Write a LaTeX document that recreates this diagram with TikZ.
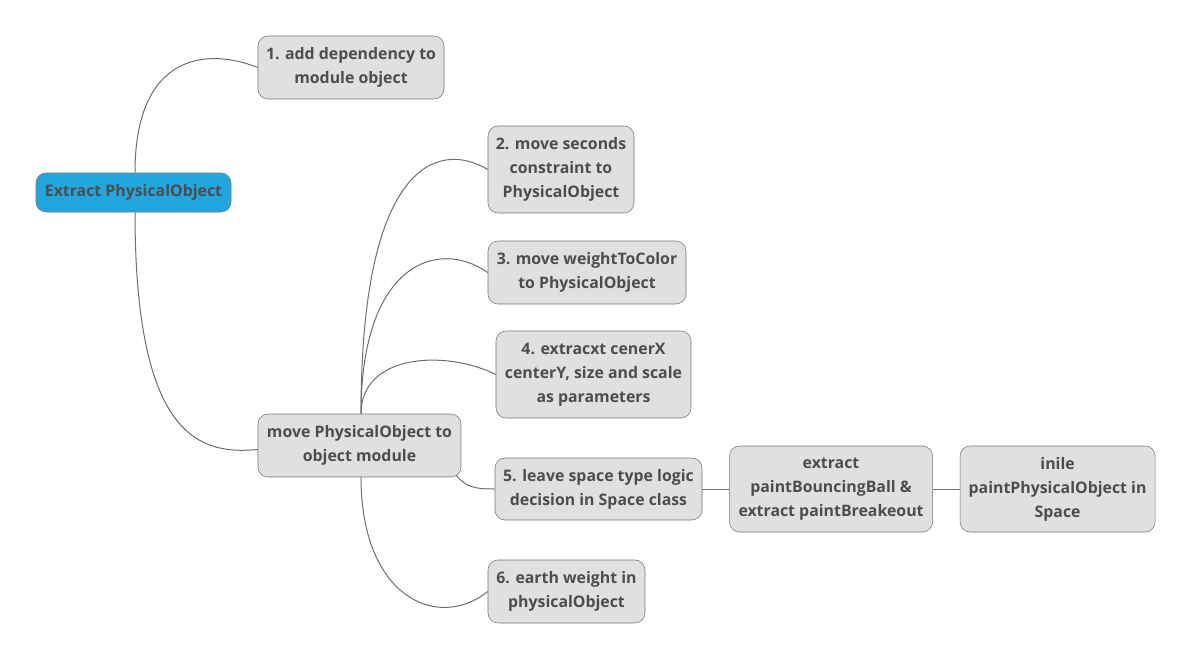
\documentclass[tikz,border=0pt]{standalone}
\usepackage{fontspec}
\setmainfont{Open Sans}
\usetikzlibrary{positioning,calc}
\definecolor{rootblue}{HTML}{21A6DD}
\definecolor{boxgray}{HTML}{E0E0E0}
\definecolor{edgegray}{HTML}{777777}
\definecolor{linkgray}{HTML}{6E6E6E}
\definecolor{textgray}{HTML}{4D4D4D}

\begin{document}
\begin{tikzpicture}[x=0.75pt,y=-0.75pt,
  topic/.style 2 args={rectangle, draw=edgegray, fill=boxgray, rounded corners=7.5pt, align=center,
    text=textgray, font=\fontsize{11.9}{18}\selectfont\bfseries, inner sep=2pt,
    minimum width=#1*0.75pt, minimum height=#2*0.75pt},
  link/.style={draw=linkgray, line width=0.75pt}]
  \useasboundingbox (0,0) rectangle (1192,661);

  \node [topic={195}{39}, fill=rootblue] (root) at (133.5,192.5) {Extract PhysicalObject};
  \node [topic={186}{63}] (adddep) at (351,67.5) {1. add dependency to\\module object};
  \node [topic={203}{63}] (movepo) at (359.5,445.5) {move PhysicalObject to\\object module};

  \node [topic={146}{87}] (moveseconds) at (561,169.5) {2. move seconds\\constraint to\\PhysicalObject};
  \node [topic={198}{63}] (moveweight) at (587,272.5) {3. move weightToColor\\to PhysicalObject};
  \node [topic={195}{87}] (extractcenter) at (593.5,374.5) {4. extracxt cenerX\\centerY, size and scale\\as parameters};
  \node [topic={207}{62}] (leavespace) at (598.5,489) {5. leave space type logic\\decision in Space class};
  \node [topic={157}{63}] (earthweight) at (566.5,591.5) {6. earth weight in\\physicalObject};

  \node [topic={203}{86}, right=27*0.75pt of leavespace] (extractpaint) {extract\\paintBouncingBall \&\\extract paintBreakeout};
  \node [topic={195}{86}, right=27*0.75pt of extractpaint] (inilepaint) {inile\\paintPhysicalObject in\\Space};

  % ramas
  \draw [link] ($(root.north)+(1.5,0)$) .. controls +(0,-120) and +(-50,-20) .. (adddep.west);
  \draw [link] ($(root.south)+(1.5,0)$) .. controls +(0,230) and +(-55,5) .. ($(movepo.west)+(0,4)$);
  \draw [link] ($(movepo.north)+(1.5,0)$) .. controls +(0,-250) and +(-50,-30) .. (moveseconds.west);
  \draw [link] ($(movepo.north)+(1.5,0)$) .. controls +(0,-150) and +(-50,-35) .. (moveweight.west);
  \draw [link] ($(movepo.north)+(1.5,0)$) .. controls +(0,-60) and +(-50,-25) .. (extractcenter.west);
  \draw [link] ($(movepo.south east)+(-5,-2)$) .. controls +(10,12) and +(-20,0) .. (leavespace.west);
  \draw [link] ($(movepo.south)+(1.5,0)$) .. controls +(0,120) and +(-50,40) .. (earthweight.west);
  \draw [link] (leavespace.east) -- (extractpaint.west);
  \draw [link] (extractpaint.east) -- (inilepaint.west);
\end{tikzpicture}
\end{document}
